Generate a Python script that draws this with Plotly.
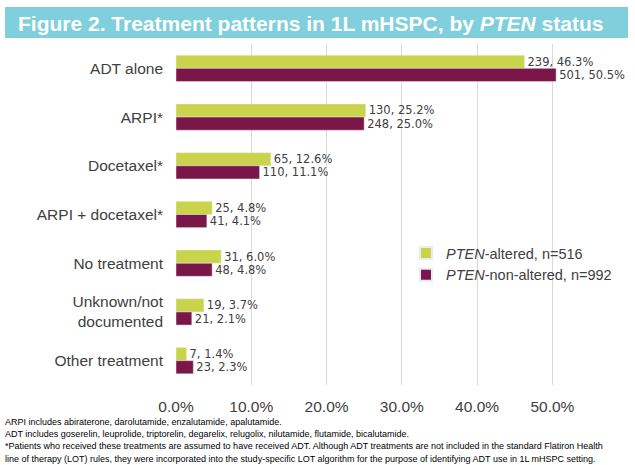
import plotly.graph_objects as go

categories = ["ADT alone", "ARPI*", "Docetaxel*", "ARPI + docetaxel*", "No treatment",
              "Unknown/not<br>documented", "Other treatment"]
altered_n = [239, 130, 65, 25, 31, 19, 7]
altered_pct = [46.3, 25.2, 12.6, 4.8, 6.0, 3.7, 1.4]
nonaltered_n = [501, 248, 110, 41, 48, 21, 23]
nonaltered_pct = [50.5, 25.0, 11.1, 4.1, 4.8, 2.1, 2.3]
x_ticks = [0, 10, 20, 30, 40, 50]

GREEN = "#c9d44a"
MAROON = "#7a1748"
FONT = "Liberation Sans, Arial, sans-serif"
LABEL_FONT = "DejaVu Sans, sans-serif"

fig = go.Figure()
fig.add_trace(go.Bar(
    y=categories, x=altered_pct, orientation="h", name="<i>PTEN</i>-altered, n=516",
    marker_color=GREEN,
    text=[f"{n}, {p:.1f}%" for n, p in zip(altered_n, altered_pct)],
    textposition="outside", cliponaxis=False, constraintext="none",
    textfont=dict(size=11.5, color="#404040", family=LABEL_FONT),
))
fig.add_trace(go.Bar(
    y=categories, x=nonaltered_pct, orientation="h", name="<i>PTEN</i>-non-altered, n=992",
    marker_color=MAROON,
    text=[f"{n}, {p:.1f}%" for n, p in zip(nonaltered_n, nonaltered_pct)],
    textposition="outside", cliponaxis=False, constraintext="none",
    textfont=dict(size=11.5, color="#404040", family=LABEL_FONT),
))

L, R, T, B = 176, 45, 44, 80
W, H = 635, 465
pw, ph = W - L - R, H - T - B

def px(x):
    return (x - L) / pw

def py(y):
    return (H - B - y) / ph

fig.update_layout(
    width=W, height=H,
    margin=dict(l=L, r=R, t=T, b=B),
    paper_bgcolor="white", plot_bgcolor="white",
    barmode="group", bargap=0.46, bargroupgap=0,
    font=dict(family=FONT, color="#404040"),
    showlegend=True,
    legend=dict(x=px(406), y=py(237), xanchor="left", yanchor="top",
                font=dict(size=14.5, color="#404040"), bgcolor="rgba(0,0,0,0)",
                itemsizing="constant"),
    xaxis=dict(range=[0, 55], tickvals=x_ticks, ticktext=[f"{v:.1f}%" for v in x_ticks],
               showgrid=True, gridcolor="#d9d9d9", gridwidth=1, zeroline=False,
               tickfont=dict(size=15.5, color="#404040"), showline=False, ticks="",
               ticklabelstandoff=10),
    yaxis=dict(autorange="reversed", tickfont=dict(size=15.5, color="#404040"),
               showgrid=False, ticks="", ticklabelstandoff=12),
    shapes=[dict(type="rect", xref="paper", yref="paper",
                 x0=px(5), x1=px(628), y0=py(38), y1=py(7),
                 fillcolor="#7fcfdc", line=dict(width=0), layer="below")],
)

fig.add_annotation(xref="paper", yref="paper", x=px(310), y=py(23),
                   xanchor="center", yanchor="middle", showarrow=False,
                   text="<b>Figure 2. Treatment patterns in 1L mHSPC, by <i>PTEN</i> status</b>",
                   font=dict(size=21, color="white", family=FONT))

notes = [
    "ARPI includes abiraterone, darolutamide, enzalutamide, apalutamide.",
    "ADT includes goserelin, leuprolide, triptorelin, degarelix, relugolix, nilutamide, flutamide, bicalutamide.",
    "*Patients who received these treatments are assumed to have received ADT. Although ADT treatments are not included in the standard Flatiron Health",
    "line of therapy (LOT) rules, they were incorporated into the study-specific LOT algorithm for the purpose of identifying ADT use in 1L mHSPC setting.",
]
for line, yy in zip(notes, [422, 434, 446, 459]):
    fig.add_annotation(xref="paper", yref="paper", x=px(3), y=py(yy),
                       xanchor="left", yanchor="middle", showarrow=False, text=line,
                       font=dict(size=9, color="black", family=FONT))

fig.write_html("out.html")
